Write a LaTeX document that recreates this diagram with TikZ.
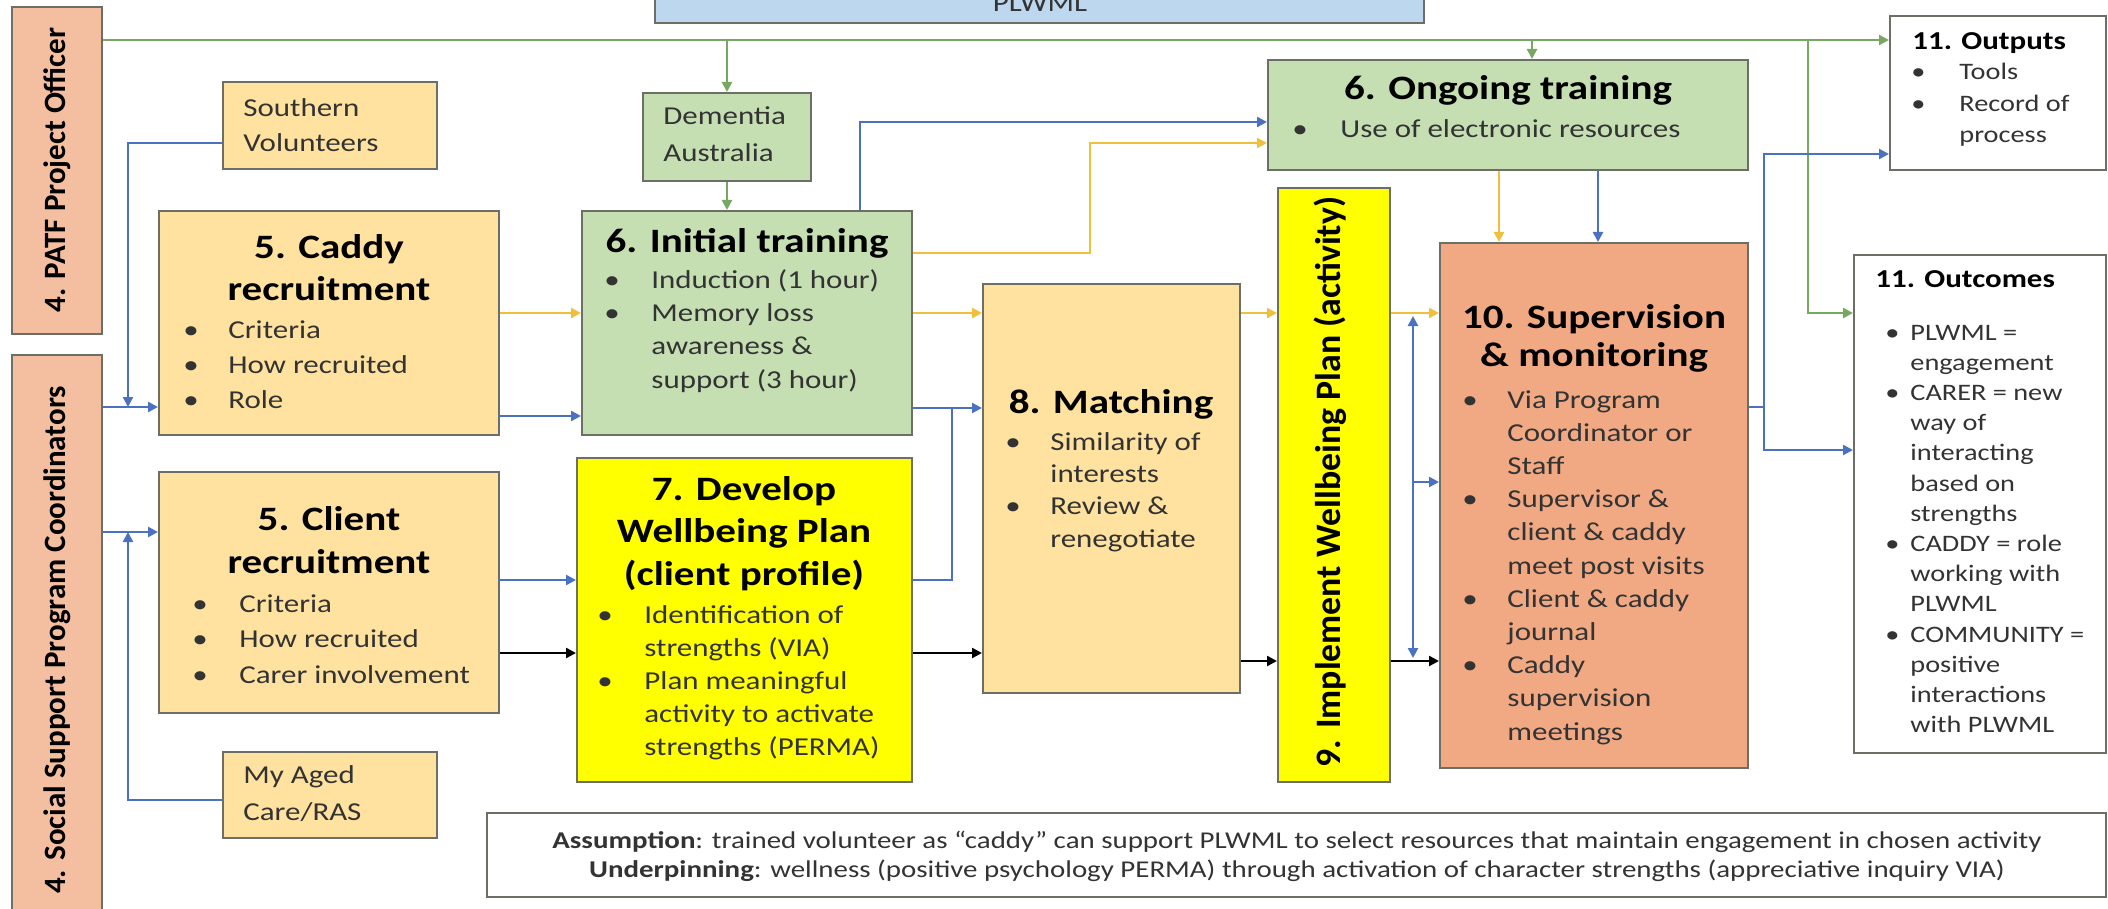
\documentclass[tikz,border=0pt]{standalone}
\usepackage{fontspec}
\setmainfont{Carlito}[FakeStretch=1.2]
\newfontfamily\sidefont{Carlito}
\usetikzlibrary{arrows.meta,fit}

\definecolor{salmon}{HTML}{F4BFA1}
\definecolor{supfill}{HTML}{F1A983}
\definecolor{sand}{HTML}{FFE29F}
\definecolor{sage}{HTML}{C5DFB3}
\definecolor{lemon}{HTML}{FFFF00}
\definecolor{sky}{HTML}{BDD7EE}
\definecolor{edge}{HTML}{6B6F66}
\definecolor{ink}{HTML}{333333}
\definecolor{lblue}{HTML}{4A72C0}
\definecolor{lgold}{HTML}{F0BF3C}
\definecolor{lgreen}{HTML}{77A862}

\newcommand{\fsz}[2]{\fontsize{#1}{#2}\selectfont}
\newcommand{\bul}{\textbullet}
\newcommand{\blist}[2]{\begin{tabular}[t]{@{}p{#1}@{}l@{}}#2\end{tabular}}
\newcommand{\clines}[1]{\begin{tabular}[t]{@{}c@{}}#1\end{tabular}}
\newcommand{\llines}[1]{\begin{tabular}[t]{@{}l@{}}#1\end{tabular}}

\tikzset{
    box/.style={draw=edge, line width=1pt, inner sep=0pt},
    txt/.style={inner sep=0pt, text=ink, anchor=base west},
    head/.style={inner sep=0pt, text=black, anchor=base, font={\fsz{17.1}{21}\bfseries}},
    side/.style={inner sep=0pt, text=black, rotate=90, font={\sidefont\fsz{15.5}{18}\bfseries}},
    tip/.style={-{Triangle[length=5pt,width=5pt]}},
    barr/.style={line width=1.2pt, draw=lblue, tip},
    bline/.style={line width=1.2pt, draw=lblue},
    bboth/.style={line width=1.2pt, draw=lblue, {Triangle[length=5pt,width=5pt]}-{Triangle[length=5pt,width=5pt]}},
    yarr/.style={line width=1.2pt, draw=lgold, tip},
    garr/.style={line width=1.2pt, draw=lgreen, tip},
    karr/.style={line width=1.2pt, draw=black, tip}
}

\begin{document}
\begin{tikzpicture}[x=0.5pt, y=-0.5pt]

    \useasboundingbox (0,0) rectangle (2108,909);
    \clip (0,0) rectangle (2108,909);

    % Boxes
    \node[box, fill=sky, fit={(655,-60) (1424,23)}] (plwml) {};
    \node[box, fill=salmon, fit={(12,7) (102,334)}] (patf) {};
    \node[box, fill=salmon, fit={(12,355) (102,930)}] (ss) {};
    \node[box, fill=sand, fit={(223,82) (437,169)}] (sv) {};
    \node[box, fill=sand, fit={(223,752) (437,838)}] (mac) {};
    \node[box, fill=sand, fit={(159,211) (499,435)}] (caddy) {};
    \node[box, fill=sand, fit={(159,472) (499,713)}] (client) {};
    \node[box, fill=sage, fit={(643,93) (811,181)}] (dementia) {};
    \node[box, fill=sage, fit={(582,211) (912,435)}] (initial) {};
    \node[box, fill=lemon, fit={(577,458) (912,782)}] (develop) {};
    \node[box, fill=sand, fit={(983,284) (1240,693)}] (matching) {};
    \node[box, fill=lemon, fit={(1278,188) (1390,782)}] (implement) {};
    \node[box, fill=sage, fit={(1268,60) (1748,170)}] (ongoing) {};
    \node[box, fill=supfill, fit={(1440,243) (1748,768)}] (supervision) {};
    \node[box, fill=white, fit={(1890,16) (2106,170)}] (outputs) {};
    \node[box, fill=white, fit={(1854,255) (2106,753)}] (outcomes) {};
    \node[box, fill=white, fit={(487,813) (2106,897)}] (assum) {};

    % Side labels
    \node[side] (patft) at (57,170) {4. PATF Project Officer};
    \node[side] (sst) at (57,640) {4. Social Support Program Coordinators};
    \node[side, font={\sidefont\fsz{17.9}{20}\bfseries}] (implt) at (1330,482) {9. Implement Wellbeing Plan (activity)};

    % Small boxes and top box
    \node[inner sep=0pt, anchor=base, text=ink, font=\fsz{12.9}{16}] (plwmlt) at (1040,12) {PLWML};
    \node[txt, font=\fsz{12.9}{17.5}] (svt) at (243,117) {\llines{Southern\\Volunteers}};
    \node[txt, font=\fsz{12.9}{18.5}] (demt) at (663,125) {\llines{Dementia\\Australia}};
    \node[txt, font=\fsz{12.9}{18.5}] (mact) at (243,783) {\llines{My Aged\\Care/RAS}};

    % Headings
    \node[head] (caddyh) at (329,258) {\clines{5. Caddy\\recruitment}};
    \node[head, font={\fsz{17.1}{21.5}\bfseries}] (clienth) at (329,530) {\clines{5. Client\\recruitment}};
    \node[head] (inith) at (747,252) {6. Initial training};
    \node[head, font={\fsz{17.1}{21.25}\bfseries}] (devh) at (744,500) {\clines{7. Develop\\Wellbeing Plan\\(client profile)}};
    \node[head] (math) at (1111,413) {8. Matching};
    \node[head] (ongh) at (1508,100) {6. Ongoing training};
    \node[head, font={\fsz{17.1}{19}\bfseries}] (suph) at (1594,328) {\clines{10. Supervision\\\& monitoring}};
    \node[head, anchor=base west, font={\fsz{12.9}{16}\bfseries}] (outph) at (1912,50) {11. Outputs};
    \node[head, anchor=base west, font={\fsz{12.9}{16}\bfseries}] (outch) at (1875,287) {11. Outcomes};

    % Bullet lists
    \node[txt, font=\fsz{12.9}{17.5}] (caddyb) at (183,338) {\blist{22.5pt}{\bul & Criteria\\ \bul & How recruited\\ \bul & Role}};
    \node[txt, font=\fsz{12.9}{17.75}] (clientb) at (192,612) {\blist{23.5pt}{\bul & Criteria\\ \bul & How recruited\\ \bul & Carer involvement}};
    \node[txt, font=\fsz{12.9}{16.67}] (initb) at (604,288) {\blist{23.5pt}{\bul & Induction (1 hour)\\ \bul & Memory loss\\ & awareness \&\\ & support (3 hour)}};
    \node[txt, font=\fsz{12.9}{16.5}] (devb) at (597,623) {\blist{23.5pt}{\bul & Identification of\\ & strengths (VIA)\\ \bul & Plan meaningful\\ & activity to activate\\ & strengths (PERMA)}};
    \node[txt, font=\fsz{12.9}{16.2}] (matb) at (1005,450) {\blist{22.5pt}{\bul & Similarity of\\ & interests\\ \bul & Review \&\\ & renegotiate}};
    \node[txt, font=\fsz{12.9}{16.6}] (supb) at (1462,408) {\blist{22.5pt}{\bul & Via Program\\ & Coordinator or\\ & Staff\\ \bul & Supervisor \&\\ & client \& caddy\\ & meet post visits\\ \bul & Client \& caddy\\ & journal\\ \bul & Caddy\\ & supervision\\ & meetings}};
    \node[txt, font=\fsz{12.9}{17}] (ongb) at (1292,138) {\blist{24pt}{\bul & Use of electronic resources}};
    \node[txt, font=\fsz{11.8}{15.75}] (outpb) at (1911,80) {\blist{24pt}{\bul & Tools\\ \bul & Record of\\ & process}};
    \node[txt, font=\fsz{11.8}{15.1}] (outcb) at (1885,340) {\blist{12.5pt}{\bul & PLWML =\\ & engagement\\ \bul & CARER = new\\ & way of\\ & interacting\\ & based on\\ & strengths\\ \bul & CADDY = role\\ & working with\\ & PLWML\\ \bul & COMMUNITY =\\ & positive\\ & interactions\\ & with PLWML}};

    % Assumption box text
    \node[inner sep=0pt, anchor=base, text=ink, font=\fsz{12.05}{14.5}] (assumt) at (1297,848) {\clines{\textbf{Assumption}: trained volunteer as “caddy” can support PLWML to select resources that maintain engagement in chosen activity\\\textbf{Underpinning}: wellness (positive psychology PERMA) through activation of character strengths (appreciative inquiry VIA)}};

    % Line levels and bends
    \coordinate (gtop) at (0,40);
    \coordinate (gong) at (1532,40);
    \coordinate (gout) at (1808,40);
    \coordinate (gin) at (0,313);
    \coordinate (svl) at (0,143);
    \coordinate (jc) at (128,407);
    \coordinate (macl) at (0,800);
    \coordinate (jl) at (128,532);
    \coordinate (bct) at (0,416);
    \coordinate (bcd) at (0,580);
    \coordinate (bit) at (860,122);
    \coordinate (bim) at (952,408);
    \coordinate (bos) at (1598,0);
    \coordinate (jso) at (1764,407);
    \coordinate (bop) at (0,154);
    \coordinate (boc) at (0,450);
    \coordinate (vtop) at (1413,316);
    \coordinate (vbot) at (1413,658);
    \coordinate (vmid) at (1413,482);
    \coordinate (ylv) at (0,313);
    \coordinate (yit) at (0,253);
    \coordinate (ybend) at (1090,143);
    \coordinate (yos) at (1499,0);
    \coordinate (klv) at (0,653);
    \coordinate (klv2) at (0,661);

    % Green links
    \draw[garr] (patf.east |- gtop) -- (outputs.west |- gtop);
    \draw[garr] (dementia.north |- gtop) -- (dementia.north);
    \draw[garr] (dementia.south) -- (dementia.south |- initial.north);
    \draw[garr] (gong) -- (gong |- ongoing.north);
    \draw[garr] (gout) |- (outcomes.west |- gin);

    % Blue links
    \draw[barr] (sv.west |- svl) -| (jc);
    \draw[barr] (ss.east |- jc) -- (caddy.west |- jc);
    \draw[barr] (mac.west |- macl) -| (jl);
    \draw[barr] (ss.east |- jl) -- (client.west |- jl);
    \draw[barr] (caddy.east |- bct) -- (initial.west |- bct);
    \draw[barr] (client.east |- bcd) -- (develop.west |- bcd);
    \draw[barr] (bit |- initial.north) |- (ongoing.west |- bit);
    \draw[barr] (initial.east |- bim) -- (matching.west |- bim);
    \draw[bline] (develop.east |- bcd) -| (bim);
    \draw[barr] (bos |- ongoing.south) -- (bos |- supervision.north);
    \draw[barr] (supervision.east |- jso) -- (jso) |- (outputs.west |- bop);
    \draw[barr] (jso) |- (outcomes.west |- boc);
    \draw[bboth] (vtop) -- (vbot);
    \draw[barr] (vmid) -- (supervision.west |- vmid);

    % Yellow links
    \draw[yarr] (caddy.east |- ylv) -- (initial.west |- ylv);
    \draw[yarr] (initial.east |- ylv) -- (matching.west |- ylv);
    \draw[yarr] (matching.east |- ylv) -- (implement.west |- ylv);
    \draw[yarr] (implement.east |- ylv) -- (supervision.west |- ylv);
    \draw[yarr] (initial.east |- yit) -| (ybend) -- (ongoing.west |- ybend);
    \draw[yarr] (yos |- ongoing.south) -- (yos |- supervision.north);

    % Black links
    \draw[karr] (client.east |- klv) -- (develop.west |- klv);
    \draw[karr] (develop.east |- klv) -- (matching.west |- klv);
    \draw[karr] (matching.east |- klv2) -- (implement.west |- klv2);
    \draw[karr] (implement.east |- klv2) -- (supervision.west |- klv2);

\end{tikzpicture}
\end{document}
